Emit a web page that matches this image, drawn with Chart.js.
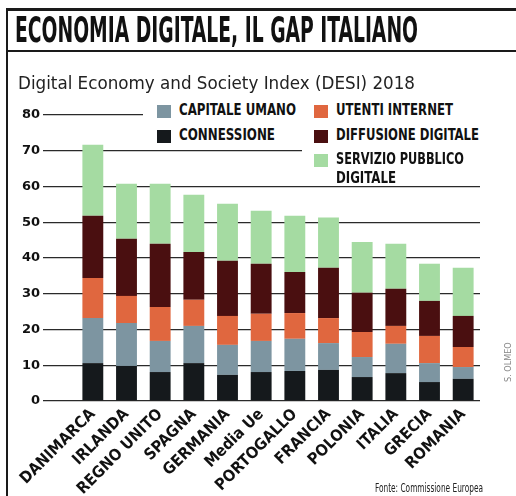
<!DOCTYPE html>
<html>
<head>
<meta charset="utf-8">
<script src="https://cdn.jsdelivr.net/npm/chart.js@4.4.0/dist/chart.umd.min.js"></script>
<style>
  html, body { margin: 0; padding: 0; background: #fff; }
  #pagina { position: relative; width: 516px; height: 496px; overflow: hidden; background: #fff; }
  #grafico { position: absolute; left: 0; top: 0; }
  .riga { position: absolute; background: #1a1a1a; }
  .testo { position: absolute; white-space: nowrap; transform-origin: 0 0; line-height: 1; color: #111; }
  .box { position: absolute; background: #fff; }
  .sw { position: absolute; width: 14px; height: 13px; }
</style>
</head>
<body>
<div id="pagina">
  <canvas id="grafico" width="516" height="496"></canvas>

  <div class="riga" style="left:6px; top:8px; width:510px; height:3px;"></div>
  <div class="riga" style="left:6px; top:50px; width:510px; height:2px;"></div>
  <div class="riga" style="left:6px; top:8px; width:2px; height:488px;"></div>

  <div class="testo fit" id="titolo" data-w="403" style="left:15px; top:13px; font-size:35px; font-weight:bold;">ECONOMIA DIGITALE, IL GAP ITALIANO</div>
  <div class="testo fit" id="sottotitolo" data-w="397" style="left:18px; top:74px; font-size:18px; color:#222;">Digital Economy and Society Index (DESI) 2018</div>

  <div class="box" style="left:143px; top:100px; width:160px; height:46px;"></div>
  <div class="box" style="left:302px; top:100px; width:190px; height:84px;"></div>
  <div id="legenda"></div>

  <div class="testo fit" data-w="108" style="left:375px; top:481px; font-size:13px; color:#222;">Fonte: Commissione Europea</div>
  <div class="testo" style="left:504px; top:382px; font-size:9px; color:#888; transform:rotate(-90deg);">S. OLMEO</div>
</div>

<script>
// Dati DESI 2018
const categorie = ["DANIMARCA", "IRLANDA", "REGNO UNITO", "SPAGNA", "GERMANIA", "Media Ue",
  "PORTOGALLO", "FRANCIA", "POLONIA", "ITALIA", "GRECIA", "ROMANIA"];
const connessione        = [10.6, 9.8, 8.1, 10.6, 7.3, 8.1, 8.4, 8.7, 6.7, 7.8, 5.3, 6.2];
const capitaleUmano      = [12.6, 12.0, 8.7, 10.4, 8.4, 8.7, 9.0, 7.5, 5.6, 8.2, 5.3, 3.3];
const utentiInternet     = [11.2, 7.6, 9.5, 7.3, 8.1, 7.6, 7.2, 7.0, 7.0, 5.0, 7.6, 5.6];
const diffusioneDigitale = [17.4, 16.0, 17.7, 13.4, 15.4, 14.0, 11.5, 14.1, 11.0, 10.4, 9.8, 8.7];
const servizioPubblico   = [19.9, 15.4, 16.8, 16.0, 16.0, 14.8, 15.7, 14.0, 14.2, 12.6, 10.4, 13.5];
const tickY = [0, 10, 20, 30, 40, 50, 60, 70, 80];

const colori = {
  connessione: "#15191c",
  capitale: "#7d95a1",
  utenti: "#e0673f",
  diffusione: "#4a0f10",
  servizio: "#a5dba2",
};

// controllo se c'è un font stretto installato
function haFont(nome) {
  const c = document.createElement("canvas").getContext("2d");
  c.font = "bold 20px monospace";
  const a = c.measureText("DANIMARCA ROMANIA").width;
  c.font = `bold 20px "${nome}", monospace`;
  return c.measureText("DANIMARCA ROMANIA").width !== a;
}
let stretto = '"Liberation Sans"';
let tagliaX = 16;
if (haFont("Liberation Sans Narrow")) { stretto = '"Liberation Sans Narrow"'; tagliaX = 19; }
else if (haFont("DejaVu Sans Condensed")) { stretto = '"DejaVu Sans Condensed"'; tagliaX = 16; }

document.querySelectorAll(".testo").forEach((el) => { el.style.fontFamily = stretto + ", 'Liberation Sans', sans-serif"; });

// legenda (due colonne)
const legenda = [
  { testo: "CAPITALE UMANO", colore: colori.capitale, x: 157, y: 105, w: 117 },
  { testo: "CONNESSIONE", colore: colori.connessione, x: 157, y: 130, w: 96 },
  { testo: "UTENTI INTERNET", colore: colori.utenti, x: 314, y: 105, w: 117 },
  { testo: "DIFFUSIONE DIGITALE", colore: colori.diffusione, x: 314, y: 130, w: 143 },
  { testo: "SERVIZIO PUBBLICO", colore: colori.servizio, x: 314, y: 154, w: 128, riga2: "DIGITALE" },
];
const contLeg = document.getElementById("legenda");
legenda.forEach((v) => {
  const sw = document.createElement("div");
  sw.className = "sw";
  sw.style.left = v.x + "px";
  sw.style.top = v.y + "px";
  sw.style.background = v.colore;
  contLeg.appendChild(sw);
  const t = document.createElement("div");
  t.className = "testo fit";
  t.dataset.w = v.w;
  t.style.left = (v.x + 22) + "px";
  t.style.top = (v.y - 2) + "px";
  t.style.fontSize = "15px";
  t.style.fontWeight = "bold";
  t.style.fontFamily = stretto + ", 'Liberation Sans', sans-serif";
  t.textContent = v.testo;
  contLeg.appendChild(t);
  if (v.riga2) {
    const t2 = t.cloneNode();
    t2.textContent = v.riga2;
    t2.dataset.w = 60;
    t2.style.top = (v.y + 17) + "px";
    contLeg.appendChild(t2);
  }
});

// adatto la larghezza dei testi
document.querySelectorAll(".fit").forEach((el) => {
  const w = el.getBoundingClientRect().width;
  const target = parseFloat(el.dataset.w);
  if (w > 0 && target) el.style.transform = `scaleX(${target / w})`;
});

const ctx = document.getElementById("grafico").getContext("2d");
new Chart(ctx, {
  type: "bar",
  data: {
    labels: categorie,
    datasets: [
      { label: "CONNESSIONE", data: connessione, backgroundColor: colori.connessione },
      { label: "CAPITALE UMANO", data: capitaleUmano, backgroundColor: colori.capitale },
      { label: "UTENTI INTERNET", data: utentiInternet, backgroundColor: colori.utenti },
      { label: "DIFFUSIONE DIGITALE", data: diffusioneDigitale, backgroundColor: colori.diffusione },
      { label: "SERVIZIO PUBBLICO DIGITALE", data: servizioPubblico, backgroundColor: colori.servizio },
    ],
  },
  options: {
    responsive: false,
    animation: false,
    devicePixelRatio: 1,
    categoryPercentage: 1,
    barPercentage: 0.62,
    layout: { padding: { top: 115, right: 36, bottom: 0, left: 0 } },
    plugins: {
      legend: { display: false },
      tooltip: { enabled: false },
    },
    scales: {
      x: {
        stacked: true,
        grid: { display: false, drawTicks: false },
        border: { display: false },
        ticks: {
          autoSkip: false,
          maxRotation: 45,
          minRotation: 45,
          padding: 4,
          color: "#111",
          font: { family: stretto, size: tagliaX, weight: "bold" },
        },
        afterFit: (s) => { s.height = 95; },
      },
      y: {
        stacked: true,
        min: 0,
        max: 80,
        afterBuildTicks: (s) => { s.ticks = tickY.map((v) => ({ value: v })); },
        grid: { color: "#2a2a2a", lineWidth: 1.3, tickLength: 33 },
        border: { display: false },
        ticks: {
          padding: 3,
          color: "#111",
          font: { family: "'DejaVu Sans'", size: 13, weight: "bold" },
        },
        afterFit: (s) => { s.width = 76; },
      },
    },
  },
});
</script>
</body>
</html>
